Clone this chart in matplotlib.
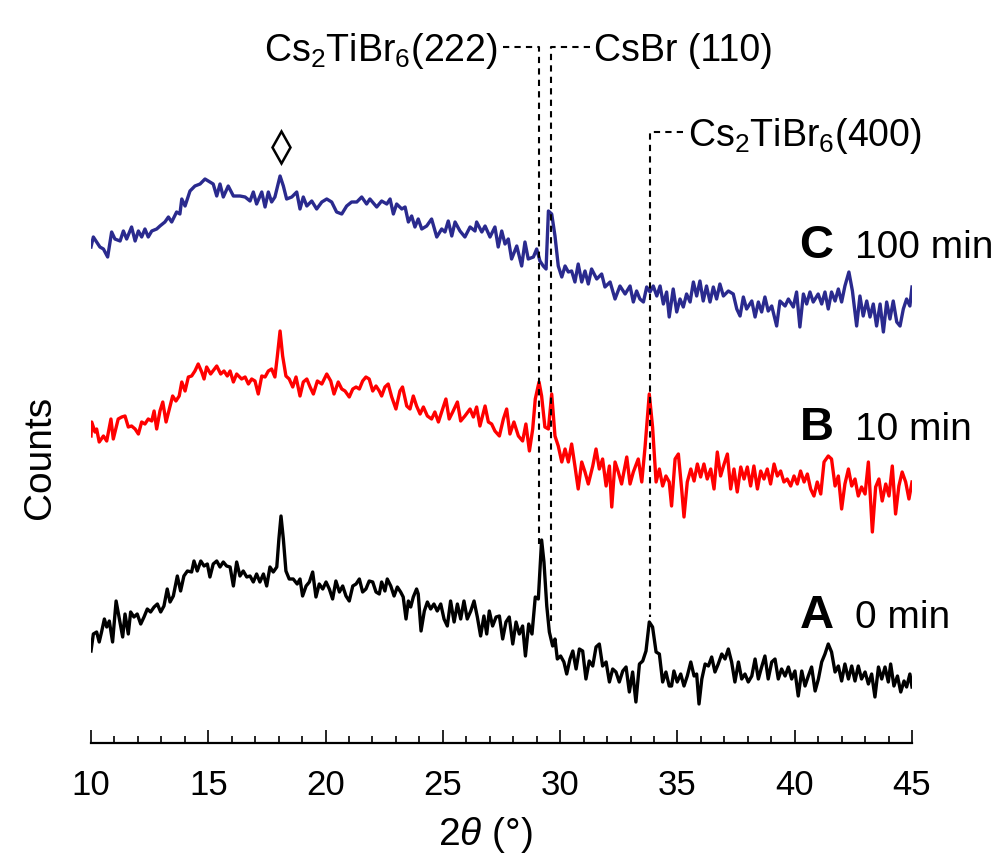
import numpy as np
import matplotlib
matplotlib.use('Agg')
import matplotlib.pyplot as plt

plt.rcParams['font.family'] = ['Liberation Sans', 'DejaVu Sans']
plt.rcParams['mathtext.fontset'] = 'custom'
plt.rcParams['mathtext.rm'] = 'Liberation Sans'
plt.rcParams['mathtext.it'] = 'Liberation Sans:italic'
plt.rcParams['mathtext.bf'] = 'Liberation Sans:bold'

# C: 100 min (offset trace, top)
c_x = [10.00, 10.10, 10.24, 10.38, 10.53, 10.71, 10.88, 11.02, 11.24, 11.38, 11.52, 11.73, 11.88, 12.02,
       12.16, 12.30, 12.44, 12.59, 12.80, 12.94, 13.15, 13.30, 13.44, 13.65, 13.79, 13.87, 14.01, 14.22,
       14.43, 14.65, 14.86, 15.07, 15.21, 15.36, 15.50, 15.64, 15.85, 16.07, 16.35, 16.57, 16.78, 16.92,
       17.06, 17.28, 17.42, 17.56, 17.70, 17.84, 18.06, 18.20, 18.34, 18.56, 18.77, 18.91, 19.05, 19.20,
       19.41, 19.62, 19.84, 20.05, 20.26, 20.47, 20.69, 20.90, 21.11, 21.33, 21.54, 21.75,
       21.89, 22.18, 22.39, 22.61, 22.75, 22.89, 23.03, 23.25, 23.39, 23.53, 23.67, 23.81, 23.95, 24.10,
       24.31, 24.52, 24.74, 24.95, 25.09, 25.23, 25.38, 25.52, 25.73, 25.94, 26.16, 26.37, 26.44, 26.66,
       26.80, 27.01, 27.22, 27.36, 27.51, 27.65, 27.79, 27.93, 28.15, 28.36, 28.50, 28.64, 28.86, 29.00,
       29.14, 29.28, 29.40, 29.50, 29.64, 29.78, 29.92, 30.07, 30.21, 30.35, 30.49, 30.63, 30.77, 30.92,
       31.06, 31.20, 31.34, 31.56, 31.77, 31.91, 32.13, 32.34, 32.55, 32.77, 32.98, 33.12, 33.26, 33.40,
       33.55, 33.69, 33.83, 33.97, 34.12, 34.26, 34.40, 34.54, 34.65,
       34.82, 34.97, 35.11, 35.25, 35.39, 35.54, 35.68, 35.82, 35.96, 36.10, 36.24, 36.39, 36.53, 36.67,
       36.81, 36.96, 37.17, 37.38, 37.53, 37.67, 37.81, 37.95, 38.17, 38.31, 38.45, 38.59, 38.73, 38.87,
       39.02, 39.23, 39.37, 39.59, 39.73, 39.94, 40.08, 40.22, 40.37, 40.51, 40.65, 40.79, 41.00, 41.15,
       41.29, 41.43, 41.57, 41.72, 41.86, 42.00, 42.14, 42.31, 42.46, 42.64, 42.78, 42.92, 43.07, 43.21,
       43.35, 43.49, 43.64, 43.78, 43.92, 44.06, 44.20, 44.35, 44.49, 44.63, 44.77, 44.91, 45.00]
c_y = [492, 502, 497, 492, 490, 482, 507, 500, 498, 508, 500, 512, 498, 508,
       502, 510, 502, 508, 510, 513, 517, 522, 517, 527, 525, 540, 533, 548,
       553, 555, 560, 557, 555, 543, 555, 542, 553, 543, 543, 542, 538, 547,
       535, 547, 532, 547, 537, 542, 563, 553, 540, 542, 547, 530, 542, 533,
       538, 530, 537, 540, 537, 527, 525, 533, 537, 537, 542, 535,
       540, 532, 538, 535, 540, 525, 535, 530, 532, 517, 523, 512, 520, 510,
       513, 520, 502, 510, 507, 518, 503, 517, 508, 502, 512, 508, 517, 507,
       513, 502, 512, 492, 508, 495, 500, 480, 493, 473, 497, 480, 482, 490,
       478, 473, 470, 528, 525, 503, 473, 462, 473, 467, 468, 457, 475, 457,
       468, 455, 470, 460, 465, 452, 457, 440, 453, 445, 453, 437, 448, 440,
       437, 452, 447, 453, 443, 453, 435, 447, 422,
       450, 427, 440, 432, 445, 437, 457, 443, 458, 438, 453, 437, 452, 440,
       455, 443, 448, 445, 430, 423, 442, 430, 438, 422, 437, 427, 442, 428,
       433, 413, 438, 433, 440, 432, 447, 412, 445, 435, 447, 437, 445, 435,
       447, 430, 447, 438, 450, 437, 453, 467, 448, 413, 443, 423, 438, 422,
       435, 413, 435, 407, 437, 420, 438, 417, 413, 430, 440, 433, 452]

# B: 10 min (middle)
b_x = [10.00, 10.03, 10.17, 10.24, 10.35, 10.53, 10.67, 10.85, 10.95, 11.16, 11.31, 11.45, 11.59, 11.73,
       11.88, 12.02, 12.16, 12.30, 12.44, 12.59, 12.69, 12.80, 12.94, 13.06, 13.20, 13.34, 13.48, 13.62,
       13.76, 13.87, 14.01, 14.15, 14.29, 14.43, 14.57, 14.72, 14.82, 14.93, 15.10, 15.36, 15.53, 15.67,
       15.81, 15.93, 16.07, 16.21, 16.42, 16.57, 16.71, 16.85, 16.99, 17.13, 17.28, 17.42, 17.56, 17.70,
       17.84, 17.94, 18.06, 18.17, 18.31, 18.45, 18.60, 18.74, 18.91, 19.05, 19.20, 19.34, 19.48, 19.65,
       19.84, 20.05, 20.22, 20.36, 20.54, 20.69, 20.83, 21.01, 21.16, 21.30, 21.44, 21.58, 21.72, 21.86,
       22.01, 22.15, 22.29,
       22.39, 22.53, 22.67, 22.82, 23.00, 23.17, 23.28, 23.46, 23.60, 23.74, 23.88, 24.03, 24.17, 24.34,
       24.52, 24.66, 24.81, 24.95, 25.13, 25.27, 25.42, 25.62, 25.76, 25.94, 26.16, 26.30, 26.44, 26.58,
       26.80, 26.94, 27.08, 27.22, 27.41, 27.58, 27.72, 27.86, 28.03, 28.22, 28.40, 28.54, 28.69, 28.83,
       28.94, 29.10, 29.21, 29.35, 29.50, 29.64, 29.78, 29.92, 30.07, 30.21, 30.35, 30.49, 30.63, 30.77,
       30.92, 31.06, 31.20, 31.39, 31.53, 31.67, 31.81, 31.96, 32.10, 32.20, 32.34, 32.48, 32.62, 32.84,
       32.98, 33.12, 33.33, 33.48, 33.62, 33.80, 33.94, 34.09, 34.23, 34.37, 34.51, 34.65,
       34.75, 34.90, 35.04, 35.18, 35.28, 35.42, 35.57, 35.71, 35.85, 35.99, 36.13, 36.27, 36.42, 36.56,
       36.70, 36.84, 36.99, 37.13, 37.27, 37.41, 37.55, 37.70, 37.84, 37.98, 38.12, 38.26, 38.41, 38.55,
       38.69, 38.83, 38.97, 39.12, 39.26, 39.40, 39.54, 39.68, 39.83, 39.97, 40.11, 40.25, 40.40, 40.54,
       40.68, 40.82, 40.96, 41.11, 41.25, 41.43, 41.57, 41.72, 41.86, 42.00, 42.14, 42.29, 42.43, 42.57,
       42.71, 42.85, 43.00, 43.14, 43.31, 43.45, 43.59, 43.73, 43.88, 44.02, 44.16, 44.30, 44.44, 44.58,
       44.73, 44.87, 45.00]
b_y = [303, 317, 307, 310, 297, 303, 298, 320, 300, 320, 322, 323, 312, 313,
       310, 305, 317, 315, 320, 318, 328, 310, 328, 337, 317, 330, 343, 338,
       343, 357, 348, 362, 363, 368, 375, 367, 360, 372, 365, 373, 365, 368,
       363, 368, 357, 365, 360, 362, 355, 360, 358, 345, 363, 362, 368, 370,
       362, 382, 408, 383, 363, 360, 352, 362, 343, 357, 360, 352, 345, 358,
       355, 365, 358, 345, 357, 350, 348, 342, 350, 352, 350, 358, 362, 360,
       348, 353, 348,
       343, 352, 355, 342, 330, 348, 352, 333, 330, 343, 333, 325, 332, 323,
       320, 327, 317, 327, 340, 320, 327, 337, 318, 323, 330, 322, 332, 313,
       333, 317, 315, 308, 303, 320, 330, 305, 317, 303, 298, 315, 288, 310,
       340, 357, 343, 312, 310, 345, 303, 293, 277, 290, 277, 295, 273, 250,
       277, 267, 255, 273, 290, 270, 280, 253, 273, 232, 277, 267, 255, 282,
       255, 267, 280, 257, 292, 345, 312, 257, 270, 253, 263, 257,
       233, 280, 285, 250, 222, 257, 270, 258, 275, 262, 275, 260, 270, 250,
       287, 263, 275, 285, 250, 270, 247, 272, 260, 272, 253, 273, 250, 268,
       260, 270, 255, 275, 263, 268, 257, 260, 253, 263, 255, 268, 257, 265,
       250, 243, 257, 245, 277, 283, 280, 253, 263, 230, 255, 270, 253, 260,
       243, 252, 245, 277, 207, 252, 260, 238, 255, 243, 273, 225, 253, 267,
       257, 240, 257]

# A: 0 min (bottom)
a_x = [10.00, 10.10, 10.24, 10.35, 10.45, 10.57, 10.67, 10.78, 10.92, 11.07, 11.21, 11.35, 11.45, 11.59,
       11.69, 11.83, 11.97, 12.12, 12.26, 12.40, 12.54, 12.69, 12.83, 12.97, 13.11, 13.25, 13.37, 13.51,
       13.68, 13.82, 13.96, 14.11, 14.29, 14.39, 14.53, 14.68, 14.82, 14.96, 15.07, 15.21, 15.36, 15.50,
       15.64, 15.78, 15.93, 16.07, 16.21, 16.35, 16.49, 16.64, 16.78, 16.92, 17.06, 17.20, 17.35, 17.49,
       17.63, 17.77, 17.92, 18.01, 18.10, 18.20, 18.31, 18.45, 18.62, 18.79, 18.91, 19.02, 19.17, 19.31,
       19.45, 19.59, 19.73, 19.88, 20.02, 20.16, 20.30, 20.44, 20.59, 20.73, 20.87, 21.01, 21.16, 21.30,
       21.44, 21.58, 21.72, 21.86, 22.01, 22.15, 22.29,
       22.39, 22.53, 22.63, 22.78, 22.92, 23.06, 23.20, 23.31, 23.43, 23.53, 23.63, 23.74, 23.88, 23.95,
       24.07, 24.21, 24.34, 24.48, 24.62, 24.76, 24.91, 25.05, 25.19, 25.33, 25.48, 25.62, 25.76, 25.90,
       26.04, 26.19, 26.33, 26.47, 26.61, 26.75, 26.87, 26.98, 27.12, 27.27, 27.41, 27.55, 27.69, 27.83,
       27.98, 28.12, 28.26, 28.40, 28.52, 28.66, 28.80, 28.94, 29.07, 29.21, 29.31, 29.43, 29.54, 29.68,
       29.78, 29.88, 30.02, 30.16, 30.28, 30.42, 30.54, 30.68, 30.82, 30.96, 31.10, 31.24, 31.39, 31.53,
       31.67, 31.81, 31.96, 32.10, 32.24, 32.38, 32.52, 32.67, 32.81, 32.95, 33.09, 33.23, 33.38, 33.52,
       33.66, 33.80, 33.94, 34.09, 34.23, 34.37, 34.51, 34.65,
       34.75, 34.85, 34.99, 35.14, 35.28, 35.42, 35.57, 35.71, 35.82, 35.92, 36.04, 36.18, 36.32, 36.46,
       36.60, 36.74, 36.89, 37.03, 37.17, 37.31, 37.45, 37.60, 37.74, 37.88, 38.02, 38.17, 38.31, 38.45,
       38.59, 38.73, 38.87, 39.02, 39.16, 39.30, 39.44, 39.59, 39.73, 39.87, 40.01, 40.15, 40.30, 40.44,
       40.58, 40.72, 40.87, 41.01, 41.15, 41.29, 41.43, 41.57, 41.72, 41.86, 42.00, 42.14, 42.29, 42.43,
       42.57, 42.71, 42.85, 43.00, 43.14, 43.28, 43.42, 43.57, 43.71, 43.85, 43.99, 44.09, 44.23, 44.38,
       44.52, 44.66, 44.77, 44.91, 45.00]
a_y = [88, 105, 107, 97, 107, 120, 112, 118, 97, 138, 120, 102, 125, 105,
       127, 122, 125, 115, 122, 130, 127, 132, 135, 127, 133, 150, 137, 143,
       163, 148, 163, 168, 167, 178, 168, 178, 173, 175, 162, 175, 178, 172,
       177, 173, 172, 153, 177, 163, 168, 162, 163, 157, 165, 157, 165, 153,
       172, 167, 172, 200, 223, 200, 168, 160, 160, 155, 160, 143, 153, 157,
       167, 142, 155, 150, 157, 150, 140, 158, 147, 153, 143, 138, 153, 155,
       160, 147, 150, 158, 157, 147, 145,
       157, 148, 160, 153, 143, 152, 147, 142, 120, 138, 132, 142, 150, 145,
       108, 128, 137, 130, 135, 128, 135, 120, 113, 138, 117, 135, 120, 138,
       120, 128, 138, 122, 103, 123, 105, 128, 113, 122, 123, 100, 117, 122,
       95, 117, 105, 113, 83, 115, 105, 142, 140, 199, 177, 133, 107, 93,
       100, 80, 83, 77, 65, 80, 88, 70, 90, 88, 60, 78, 73, 92,
       95, 73, 77, 57, 70, 67, 57, 68, 72, 47, 67, 37, 75, 78,
       88, 117, 112, 87, 85, 57, 67, 53,
       53, 68, 57, 65, 53, 63, 77, 63, 65, 35, 60, 75, 73, 82,
       67, 75, 85, 80, 90, 77, 57, 77, 60, 65, 57, 63, 80, 60,
       72, 83, 60, 77, 80, 60, 70, 63, 72, 60, 68, 43, 68, 53,
       63, 72, 48, 60, 77, 85, 95, 87, 67, 73, 58, 75, 60, 73,
       58, 73, 60, 67, 55, 65, 42, 72, 60, 72, 57, 75, 53, 63,
       47, 58, 52, 65, 52]

for xs, ys in [(a_x, a_y), (b_x, b_y), (c_x, c_y)]:
    assert len(xs) == len(ys), (len(xs), len(ys))

# reflection markers: 2theta, label, where the dashed leader stops on the trace
peak_pos = [29.10, 29.61, 33.83]
peak_lbl = ['Cs$_2$TiBr$_6$(222)', 'CsBr (110)', 'Cs$_2$TiBr$_6$(400)']
peak_end = [195, 118, 122]

fig = plt.figure(figsize=(10.04, 8.62), dpi=100)
ax = fig.add_axes([91/1004, (862-744)/862, 821/1004, 744/862])

ax.plot(a_x, a_y, color='black', lw=2.4)
ax.plot(b_x, b_y, color='#ff0000', lw=2.4)
ax.plot(c_x, c_y, color='#2a2a8e', lw=2.4)

ax.set_xlim(10, 45)
ax.set_ylim(-4, 740)

for s in ['top', 'right', 'left']:
    ax.spines[s].set_visible(False)
ax.spines['bottom'].set_linewidth(1.6)
ax.set_yticks([])
ax.set_xticks(np.arange(10, 46, 5))
ax.set_xticks(np.arange(10, 46, 1), minor=True)
ax.tick_params(axis='x', which='major', direction='in', length=9.5, width=1.2,
               labelsize=25, pad=18)
ax.tick_params(axis='x', which='minor', direction='in', length=5, width=1.2)

dash = dict(color='black', lw=1.5, ls=(0, (3, 2.5)), clip_on=False)
# (222) leader to the left, (110) to the right, (400) lower right
ax.plot([27.56, peak_pos[0], peak_pos[0]], [692, 692, peak_end[0]], **dash)
ax.plot([31.27, peak_pos[1], peak_pos[1]], [692, 692, peak_end[1]], **dash)
ax.plot([35.24, peak_pos[2], peak_pos[2]], [607, 607, peak_end[2]], **dash)

ax.text(27.35, 679, peak_lbl[0], ha='right', va='baseline', fontsize=27)
ax.text(31.45, 679, peak_lbl[1], ha='left', va='baseline', fontsize=27)
ax.text(35.45, 594, peak_lbl[2], ha='left', va='baseline', fontsize=27)

# unidentified reflection
ax.plot([18.10], [592], marker='d', ms=16, mfc='white', mec='black', mew=1.8, clip_on=False)

for ybase, letter, t in [(482, 'C', '100 min'), (300, 'B', '10 min'), (112, 'A', '0 min')]:
    ax.text(40.2, ybase, letter, fontsize=34, fontweight='bold', ha='left', va='baseline')
    ax.text(42.55, ybase, t, fontsize=28, ha='left', va='baseline')

fig.text(40/1004, 1 - 457/862, 'Counts', rotation=90, fontsize=28, ha='center', va='center')
fig.text(485/1004, 1 - 835/862, '2$\\theta$ (°)', fontsize=28, ha='center', va='center')

fig.savefig('out.png', dpi=100)
